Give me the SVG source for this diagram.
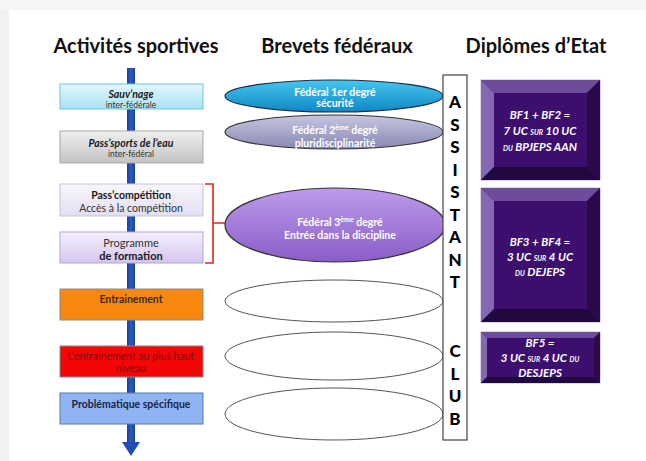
<svg xmlns="http://www.w3.org/2000/svg" width="646" height="461" viewBox="0 0 646 461">
<defs>
<style>
.hdr{font-family:Lato,"Liberation Sans",sans-serif;font-size:20px;font-weight:700;fill:#111;text-anchor:middle}
.t{font-family:Lato,"Liberation Sans",sans-serif;text-anchor:middle}
.b{font-weight:700}
.i{font-style:italic}
.ltr{font-family:Lato,"Liberation Sans",sans-serif;font-size:17px;font-weight:900;fill:#000;text-anchor:middle}
.dt{font-family:Lato,"Liberation Sans",sans-serif;font-size:11.5px;font-weight:700;font-style:italic;fill:#fff;text-anchor:middle}
.sc{font-variant:small-caps;font-size:10.5px}
.et{font-family:Lato,"Liberation Sans",sans-serif;font-size:10.5px;font-weight:700;fill:#fff;text-anchor:middle}
.emp{fill:#fff;stroke:#555;stroke-width:1}
</style>
<linearGradient id="g1" x1="0" y1="0" x2="0" y2="1"><stop offset="0" stop-color="#e4f7fd"/><stop offset="1" stop-color="#a9e1f3"/></linearGradient>
<linearGradient id="g2" x1="0" y1="0" x2="0" y2="1"><stop offset="0" stop-color="#efefef"/><stop offset="1" stop-color="#c3c3c3"/></linearGradient>
<linearGradient id="g3" x1="0" y1="0" x2="0" y2="1"><stop offset="0" stop-color="#f8f6fc"/><stop offset="1" stop-color="#e3dff1"/></linearGradient>
<linearGradient id="g4" x1="0" y1="0" x2="0" y2="1"><stop offset="0" stop-color="#f6f0fd"/><stop offset="1" stop-color="#d6c5ef"/></linearGradient>
<linearGradient id="e1" x1="0" y1="0" x2="0" y2="1"><stop offset="0" stop-color="#45c6f0"/><stop offset="1" stop-color="#1088c4"/></linearGradient>
<linearGradient id="e2" x1="0" y1="0" x2="0" y2="1"><stop offset="0" stop-color="#c6c6e0"/><stop offset="1" stop-color="#8888b4"/></linearGradient>
<linearGradient id="e3" x1="0" y1="0" x2="0" y2="1"><stop offset="0" stop-color="#bc9cec"/><stop offset="1" stop-color="#8a5cc6"/></linearGradient>
<linearGradient id="sh" x1="0" y1="0" x2="1" y2="0"><stop offset="0" stop-color="#1a3f98"/><stop offset="0.5" stop-color="#2a5cc4"/><stop offset="1" stop-color="#1a3f98"/></linearGradient>
</defs>
<rect width="646" height="461" fill="#fff"/>
<rect x="0" y="0" width="9" height="461" fill="#f1f1f1"/>
<rect x="0" y="0" width="646" height="10" fill="#f6f6f6"/>

<g id="headers">
<text class="hdr" x="136" y="53">Activités sportives</text>
<text class="hdr" x="337" y="53">Brevets fédéraux</text>
<text class="hdr" x="536" y="53">Diplômes d’Etat</text>
</g>

<g id="connectors">
<rect x="127" y="68" width="8" height="375" fill="url(#sh)"/>
<polygon points="122,442 140,442 131,456" fill="#1f4db4"/>
<path d="M205,184 H213 V263 H205 M213,223 H226" fill="none" stroke="#e02424" stroke-width="1.6"/>
</g>

<g id="sauvnage">
<rect x="60" y="84" width="143" height="25" fill="url(#g1)" stroke="#72c4da" stroke-width="1"/>
<text class="t b i" x="131" y="98" font-size="10.5" fill="#1a1a1a">Sauv’nage</text>
<text class="t" x="131" y="108" font-size="8.5" fill="#333">inter-fédérale</text>
</g>
<g id="passsports">
<rect x="60" y="131" width="143" height="32" fill="url(#g2)" stroke="#a8a8a8" stroke-width="1"/>
<text class="t b i" x="131" y="147" font-size="10.5" fill="#1a1a1a">Pass’sports de l’eau</text>
<text class="t" x="131" y="157" font-size="8.5" fill="#333">inter-fédéral</text>
</g>
<g id="passcompetition">
<rect x="60" y="184" width="143" height="32" fill="url(#g3)" stroke="#c6c2d8" stroke-width="1"/>
<text class="t b" x="131" y="198.5" font-size="10.5" fill="#1a1a1a">Pass’compétition</text>
<text class="t" x="131" y="211.5" font-size="10.5" fill="#333">Accès à la compétition</text>
</g>
<g id="programme">
<rect x="60" y="232" width="143" height="31" fill="url(#g4)" stroke="#b4a4d6" stroke-width="1"/>
<text class="t" x="131" y="246.5" font-size="11" fill="#333">Programme</text>
<text class="t b" x="131" y="259.5" font-size="11" fill="#1a1a1a">de formation</text>
</g>
<g id="entrainement">
<rect x="60" y="289" width="143" height="31" fill="#f7870f" stroke="#8a8a8a" stroke-width="1"/>
<text class="t b" x="131" y="302.5" font-size="10.5" fill="#3a2a1a">Entrainement</text>
</g>
<g id="hautniveau">
<rect x="60" y="346" width="143" height="31" fill="#f20606" stroke="#8a8a8a" stroke-width="1"/>
<text class="t" x="131" y="359.5" font-size="10.5" fill="#7a1010">L’entrainement au plus haut</text>
<text class="t" x="131" y="371.5" font-size="10.5" fill="#7a1010">niveau</text>
</g>
<g id="problematique">
<rect x="60" y="393" width="143" height="31" fill="#8fb4f4" stroke="#5a78ac" stroke-width="1"/>
<text class="t b" x="131" y="407.5" font-size="10.5" fill="#1a2448">Problématique spécifique</text>
</g>

<g id="federal1">
<ellipse cx="334" cy="96" rx="109" ry="16" fill="url(#e1)" stroke="#1c2c44" stroke-width="1.2"/>
<text class="et" x="335" y="95.5">Fédéral 1er degré</text>
<text class="et" x="335" y="107">sécurité</text>
</g>
<g id="federal2">
<ellipse cx="334" cy="132" rx="109" ry="17" fill="url(#e2)" stroke="#333" stroke-width="1.2"/>
<text class="et" x="335" y="133.5" fill="#f2f2fa">Fédéral 2<tspan font-size="7" dy="-3.5">ème</tspan><tspan dy="3.5"> degré</tspan></text>
<text class="et" x="335" y="146.5" fill="#f2f2fa">pluridisciplinarité</text>
</g>
<g id="federal3">
<ellipse cx="335" cy="225" rx="110" ry="37" fill="url(#e3)" stroke="#333" stroke-width="1.2"/>
<text class="et" x="340" y="225.5" fill="#f4f0fc">Fédéral 3<tspan font-size="7" dy="-3.5">ème</tspan><tspan dy="3.5"> degré</tspan></text>
<text class="et" x="340" y="238.5" fill="#f4f0fc">Entrée dans la discipline</text>
</g>
<g id="empty1"><ellipse class="emp" cx="334" cy="301" rx="109" ry="21"/></g>
<g id="empty2"><ellipse class="emp" cx="334" cy="356" rx="109" ry="24"/></g>
<g id="empty3"><ellipse class="emp" cx="334" cy="414" rx="109" ry="26"/></g>

<g id="assistantclub">
<rect x="443" y="75" width="24" height="365" fill="#fff" stroke="#444" stroke-width="1.2"/>
<text class="ltr" x="455" y="108">A</text>
<text class="ltr" x="455" y="130.5">S</text>
<text class="ltr" x="455" y="153">S</text>
<text class="ltr" x="455" y="175.5">I</text>
<text class="ltr" x="455" y="198">S</text>
<text class="ltr" x="455" y="220.5">T</text>
<text class="ltr" x="455" y="243">A</text>
<text class="ltr" x="455" y="265.5">N</text>
<text class="ltr" x="455" y="288">T</text>
<text class="ltr" x="455" y="357">C</text>
<text class="ltr" x="455" y="379.5">L</text>
<text class="ltr" x="455" y="402">U</text>
<text class="ltr" x="455" y="424.5">B</text>
</g>

<g id="bf12">
<rect x="481" y="80" width="119" height="100" fill="#3c0e6e" stroke="#8a7aa4" stroke-width="0.6"/>
<polygon points="481,80 600,80 587,93 494,93" fill="#6e4c9c"/>
<polygon points="481,80 494,93 494,167 481,180" fill="#8468b2"/>
<polygon points="600,80 600,180 587,167 587,93" fill="#2a0a4a"/>
<polygon points="481,180 600,180 587,167 494,167" fill="#220840"/>
<text class="dt" x="540" y="119">BF1 + BF2 =</text>
<text class="dt" x="540" y="135">7 UC <tspan class="sc">sur</tspan> 10 UC</text>
<text class="dt" x="540" y="151"><tspan class="sc">du</tspan> BPJEPS AAN</text>
</g>
<g id="bf34">
<rect x="481" y="188" width="119" height="134" fill="#3c0e6e" stroke="#8a7aa4" stroke-width="0.6"/>
<polygon points="481,188 600,188 587,201 494,201" fill="#6e4c9c"/>
<polygon points="481,188 494,201 494,309 481,322" fill="#8468b2"/>
<polygon points="600,188 600,322 587,309 587,201" fill="#2a0a4a"/>
<polygon points="481,322 600,322 587,309 494,309" fill="#220840"/>
<text class="dt" x="540" y="246">BF3 + BF4 =</text>
<text class="dt" x="540" y="261">3 UC <tspan class="sc">sur</tspan> 4 UC</text>
<text class="dt" x="540" y="276"><tspan class="sc">du</tspan> DEJEPS</text>
</g>
<g id="bf5">
<rect x="481" y="332" width="119" height="51" fill="#3c0e6e" stroke="#8a7aa4" stroke-width="0.6"/>
<polygon points="481,332 600,332 594,338 487,338" fill="#6e4c9c"/>
<polygon points="481,332 487,338 487,377 481,383" fill="#8468b2"/>
<polygon points="600,332 600,383 594,377 594,338" fill="#2a0a4a"/>
<polygon points="481,383 600,383 594,377 487,377" fill="#220840"/>
<text class="dt" x="540" y="347">BF5 =</text>
<text class="dt" x="540" y="362">3 UC <tspan class="sc">sur</tspan> 4 UC <tspan class="sc">du</tspan></text>
<text class="dt" x="540" y="377">DESJEPS</text>
</g>
</svg>
